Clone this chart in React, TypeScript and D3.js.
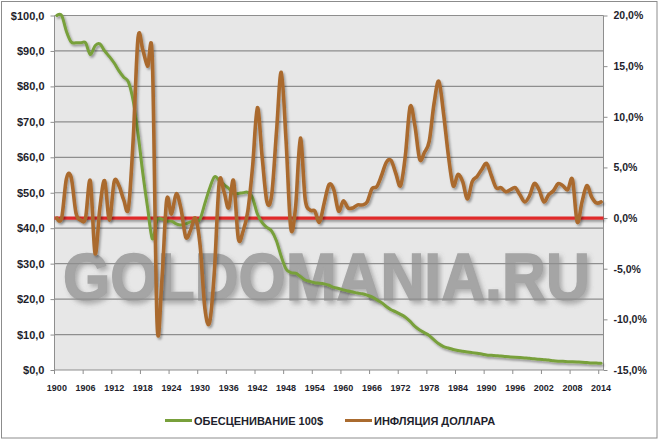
import { useEffect, useRef } from 'react';
import * as d3 from 'd3';

const YEARS: number[] = d3.range(1900, 2015);

// purchasing power of $100 (left axis)
const DEVALUATION: number[] = [
  100, 100, 95.5, 92.5, 92.3, 92.3, 92.3, 89.0, 91.5, 92.0,
  90.0, 88.4, 86.6, 84.4, 82.6, 81.2, 75.8, 66.6, 55.5, 45.8,
  37.0, 42.3, 42.6, 42.0, 42.0, 41.2, 40.9, 41.2, 41.8, 42.0,
  42.6, 47.0, 51.3, 54.5, 53.5, 52.3, 51.2, 49.8, 49.8, 50.0,
  50.1, 48.5, 44.0, 41.6, 40.2, 39.2, 36.4, 32.0, 28.5, 27.5,
  27.3, 26.4, 25.4, 25.0, 24.6, 24.5, 24.3, 23.9, 23.3, 23.0,
  22.6, 22.3, 22.0, 21.7, 21.5, 21.1, 20.6, 19.8, 19.0, 17.9,
  17.0, 16.4, 15.7, 14.9, 13.7, 12.3, 11.3, 10.5, 9.7, 8.5,
  7.4, 6.6, 6.2, 5.8, 5.5, 5.3, 5.1, 4.9, 4.7, 4.5,
  4.25, 4.15, 4.05, 3.95, 3.8, 3.7, 3.6, 3.5, 3.4, 3.3,
  3.15, 3.0, 2.9, 2.8, 2.6, 2.5, 2.45, 2.35, 2.3, 2.25,
  2.2, 2.1, 2.0, 1.95, 1.9,
];

// annual dollar inflation, % (right axis)
const INFLATION: number[] = [
  0.0, 0.0, 3.9, 4.0, 0.5, -0.2, 0.0, 3.7, -3.5, 1.0,
  3.7, -0.2, 3.6, 3.2, 1.8, 1.0, 7.9, 17.8, 16.6, 15.0,
  15.6, -10.5, -6.1, 1.8, 0.4, 2.4, 0.9, -1.9, -1.2, 0.0,
  -2.7, -8.9, -10.3, -5.2, 3.5, 2.6, 1.0, 3.7, -2.0, -1.3,
  0.7, 5.1, 10.9, 6.0, 1.6, 2.3, 8.5, 14.4, 7.7, -1.0,
  1.1, 7.9, 1.9, 0.8, 0.7, -0.4, 1.5, 3.3, 2.8, 0.7,
  1.7, 1.0, 1.0, 1.3, 1.3, 1.6, 2.9, 3.1, 4.2, 5.5,
  5.7, 4.4, 3.2, 6.2, 11.0, 9.1, 5.8, 6.5, 7.6, 11.3,
  13.5, 10.3, 6.2, 3.2, 4.3, 3.6, 1.9, 3.6, 4.1, 4.8,
  5.4, 4.2, 3.0, 3.0, 2.6, 2.8, 3.0, 2.3, 1.6, 2.2,
  3.4, 2.8, 1.6, 2.3, 2.7, 3.4, 3.2, 2.8, 3.8, -0.4,
  1.6, 3.2, 2.1, 1.5, 1.6,
];

const LEFT_TICKS: number[] = d3.range(0, 101, 10);
const RIGHT_TICKS: number[] = [-15, -10, -5, 0, 5, 10, 15, 20];
const SERIES_NAMES: string[] = ['ОБЕСЦЕНИВАНИЕ 100$', 'ИНФЛЯЦИЯ ДОЛЛАРА'];

const GREEN = '#78a03b';
const BROWN = '#aa6b2f';
const RED = '#e02b2b';
const TEXT = '#1e1e2c';
const FONT = '"Liberation Sans", Arial, sans-serif';

export default function App() {
  const svgRef = useRef<SVGSVGElement>(null);
  const width = 659;
  const height = 441;

  useEffect(() => {
    if (!svgRef.current) return;
    const svg = d3.select(svgRef.current);
    svg.selectAll('*').remove();

    const left = 54.5, right = 603.5, top = 15.5, bottom = 370;

    const defs = svg.append('defs');
    const sh = defs.append('filter').attr('id', 'shadow')
      .attr('filterUnits', 'userSpaceOnUse')
      .attr('x', 0).attr('y', 0).attr('width', width).attr('height', height);
    sh.append('feDropShadow')
      .attr('dx', 1.5).attr('dy', 2).attr('stdDeviation', 1.1)
      .attr('flood-color', '#000').attr('flood-opacity', 0.35);
    const wm = defs.append('filter').attr('id', 'wm')
      .attr('filterUnits', 'userSpaceOnUse')
      .attr('x', -50).attr('y', -120).attr('width', 800).attr('height', 200);
    wm.append('feDropShadow')
      .attr('dx', 3).attr('dy', 3).attr('stdDeviation', 2.5)
      .attr('flood-color', '#666').attr('flood-opacity', 0.45);

    // outer frame
    svg.append('rect')
      .attr('x', 1.5).attr('y', 1.5).attr('width', 655.5).attr('height', 436.5)
      .attr('fill', '#fff').attr('stroke', '#8c8c8c');

    // Scales
    const x = d3.scaleBand<number>().domain(YEARS).range([left, right]);
    const cx = (d: number) => (x(d) ?? 0) + x.bandwidth() / 2;
    const yL = d3.scaleLinear().domain([0, 100]).range([bottom, top]);
    const yR = d3.scaleLinear().domain([-15, 20]).range([bottom, top]);

    // plot background
    svg.append('rect')
      .attr('x', left).attr('y', top).attr('width', right - left).attr('height', bottom - top)
      .attr('fill', '#e7e7e7');

    // watermark, squeezed horizontally to the reference width
    const mark = svg.append('text')
      .attr('x', 0).attr('y', 0)
      .style('font-family', FONT).style('font-weight', 'bold').style('font-size', '66px')
      .style('fill', '#a5a5a5').style('stroke', '#a5a5a5').style('stroke-width', 1.5)
      .attr('filter', 'url(#wm)')
      .text('GOLDOMANIA.RU');
    const natural = (mark.node() as SVGTextElement).getComputedTextLength() || 570;
    mark.attr('transform', `translate(63,300) scale(${527 / natural},1)`);

    // Grid lines
    svg.selectAll<SVGLineElement, number>('.grid')
      .data(LEFT_TICKS)
      .join('line')
      .attr('class', 'grid')
      .attr('x1', left).attr('x2', right)
      .attr('y1', (d: number) => yL(d)).attr('y2', (d: number) => yL(d))
      .attr('stroke', '#8e8e8e').attr('stroke-width', 1.2);

    // axes lines
    svg.append('line').attr('x1', left).attr('x2', left).attr('y1', top).attr('y2', bottom)
      .attr('stroke', '#8e8e8e');
    svg.append('line').attr('x1', right).attr('x2', right).attr('y1', top).attr('y2', bottom)
      .attr('stroke', '#8e8e8e');

    // Left axis
    const la = svg.append('g').attr('transform', `translate(${left},0)`);
    la.call(d3.axisLeft(yL).tickValues(LEFT_TICKS).tickSize(4).tickPadding(6)
      .tickFormat((d: d3.NumberValue) => `$${d3.format('.1f')(d.valueOf()).replace('.', ',')}`));
    la.select('.domain').remove();
    la.selectAll('line').attr('stroke', '#8e8e8e');
    la.selectAll('text').style('fill', TEXT).style('font-size', '11px')
      .style('font-weight', 'bold').style('font-family', FONT);

    // Right axis
    const ra = svg.append('g').attr('transform', `translate(${right},0)`);
    ra.call(d3.axisRight(yR).tickValues(RIGHT_TICKS).tickSize(4).tickPadding(6)
      .tickFormat((d: d3.NumberValue) => `${d3.format('.1f')(d.valueOf()).replace('.', ',').replace('−', '-')}%`));
    ra.select('.domain').remove();
    ra.selectAll('line').attr('stroke', '#8e8e8e');
    ra.selectAll('text').style('fill', TEXT).style('font-size', '10.5px')
      .style('font-weight', 'bold').style('font-family', FONT);

    // X axis: ticks between categories every 6 years
    const labelYears = YEARS.filter((d: number) => (d - 1900) % 6 === 0);
    svg.selectAll<SVGLineElement, number>('.xtick')
      .data(labelYears)
      .join('line')
      .attr('class', 'xtick')
      .attr('x1', (d: number) => x(d) ?? 0).attr('x2', (d: number) => x(d) ?? 0)
      .attr('y1', bottom).attr('y2', bottom + 4)
      .attr('stroke', '#8e8e8e');
    svg.selectAll<SVGTextElement, number>('.xlabel')
      .data(labelYears)
      .join('text')
      .attr('class', 'xlabel')
      .attr('x', (d: number) => cx(d)).attr('y', 391)
      .attr('text-anchor', 'middle')
      .style('fill', TEXT).style('font-size', '9px').style('font-weight', 'bold')
      .style('font-family', FONT)
      .text((d: number) => String(d));

    // zero inflation line
    svg.append('line')
      .attr('x1', left).attr('x2', right).attr('y1', yR(0)).attr('y2', yR(0))
      .attr('stroke', RED).attr('stroke-width', 3.2).attr('filter', 'url(#shadow)');

    const idx = YEARS.map((_: number, i: number) => i);

    const green = d3.line<number>()
      .x((i: number) => cx(YEARS[i]))
      .y((i: number) => yL(DEVALUATION[i]))
      .curve(d3.curveCardinal.tension(0));
    svg.append('path').attr('d', green(idx) ?? '')
      .attr('fill', 'none').attr('stroke', GREEN).attr('stroke-width', 3)
      .attr('stroke-linejoin', 'round').attr('stroke-linecap', 'round')
      .attr('filter', 'url(#shadow)');

    const brown = d3.line<number>()
      .x((i: number) => cx(YEARS[i]))
      .y((i: number) => yR(INFLATION[i]))
      .curve(d3.curveCardinal.tension(0));
    svg.append('path').attr('d', brown(idx) ?? '')
      .attr('fill', 'none').attr('stroke', BROWN).attr('stroke-width', 3.6)
      .attr('stroke-linejoin', 'round').attr('stroke-linecap', 'round')
      .attr('filter', 'url(#shadow)');

    // Legend
    const legend = [
      { name: SERIES_NAMES[0], color: GREEN, x: 165 },
      { name: SERIES_NAMES[1], color: BROWN, x: 345 },
    ];
    legend.forEach((l) => {
      svg.append('line').attr('x1', l.x).attr('x2', l.x + 27).attr('y1', 420.5).attr('y2', 420.5)
        .attr('stroke', l.color).attr('stroke-width', 3);
      svg.append('text').attr('x', l.x + 29).attr('y', 424.5)
        .style('fill', TEXT).style('font-size', '11px').style('font-weight', 'bold')
        .style('font-family', FONT)
        .text(l.name);
    });
  }, []);

  return (
    <svg
      ref={svgRef}
      width={width}
      height={height}
      style={{ position: 'absolute', left: 0, top: 0, background: '#fff' }}
    />
  );
}
